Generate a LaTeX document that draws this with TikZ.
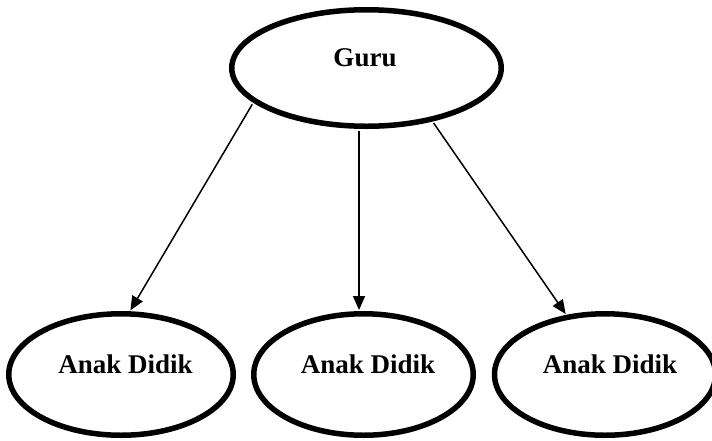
\documentclass[tikz,border=0pt]{standalone}
\usepackage{fontspec}
\setmainfont{Liberation Serif}
\usetikzlibrary{arrows.meta,shapes.geometric}

\tikzset{
  bubble/.style={ellipse, draw=black, line width=5.5pt, inner sep=0pt, fill=white},
  caption/.style={font=\bfseries\fontsize{27}{32}\selectfont, inner sep=0pt},
  link/.style={line width=1.5pt, -{Triangle[length=14pt,width=12pt]}, shorten <=2pt, shorten >=1pt}
}

\begin{document}
\begin{tikzpicture}[x=1pt,y=-1pt]
  \useasboundingbox (0,0) rectangle (712,440);
  \clip (0,0) rectangle (712,440);
  \fill[white] (0,0) rectangle (712,440);

  % teacher
  \node[bubble, minimum width=269.5pt, minimum height=116.5pt] (guru) at (366.5,68) {};
  \node[caption] (guruText) at (365,58) {Guru};

  % students
  \node[bubble, minimum width=224.5pt, minimum height=121.5pt] (kiri) at (121,374.5) {};
  \node[bubble, minimum width=219.5pt, minimum height=121.5pt] (tengah) at (363.5,374.5) {};
  \node[bubble, minimum width=221pt, minimum height=121.5pt] (kanan) at (605,374.5) {};

  \node[caption] (kiriText) at (125.5,364) {Anak Didik};
  \node[caption] (tengahText) at (368,364) {Anak Didik};
  \node[caption] (kananText) at (610,364) {Anak Didik};

  % connectors
  \draw[link] (guru.197.6) -- (kiri.82);
  \draw[link] (guru.263) -- (guru.263 |- tengah.north);
  \draw[link] (guru.321.8) -- (kanan.123);
\end{tikzpicture}
\end{document}
